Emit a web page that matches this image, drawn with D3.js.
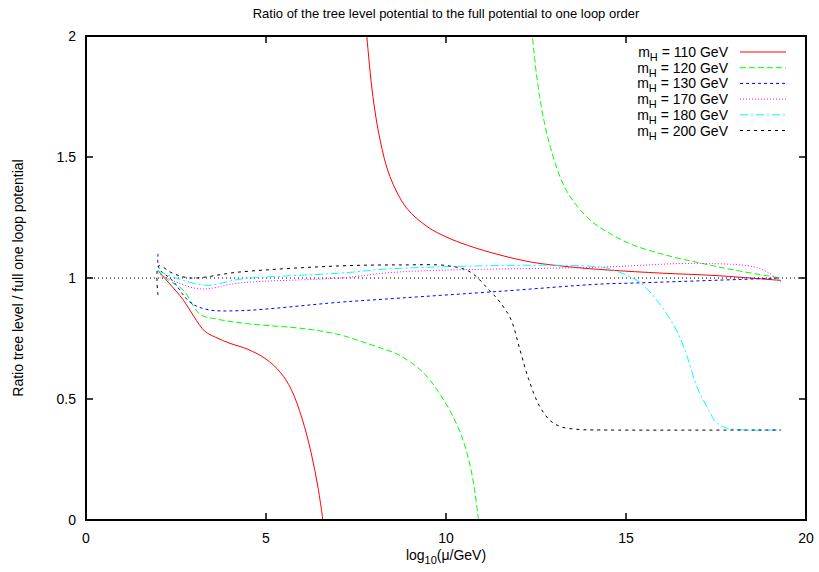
<!DOCTYPE html>
<html>
<head>
<meta charset="utf-8">
<script src="https://cdn.jsdelivr.net/npm/d3@7"></script>
<style>
  body { margin: 0; background: #fff; }
  text { font-family: "Liberation Sans", Arial, sans-serif; fill: #000; }
</style>
</head>
<body>
<div id="chart"></div>
<script>
// data, [log10(mu/GeV), ratio]
const mH110a = [[2,1.03],[2.3,0.98],[2.7,0.91],[3.0,0.84],[3.3,0.78],[3.6,0.755],[4.0,0.73],[4.5,0.705],[5.0,0.665],[5.4,0.61],[5.7,0.54],[6.0,0.42],[6.25,0.28],[6.45,0.13],[6.58,0]];
const mH110b = [[7.75,2.1],[7.8,2.0],[7.97,1.75],[8.17,1.57],[8.44,1.42],[8.9,1.29],[9.5,1.21],[10,1.17],[10.6,1.135],[11.5,1.095],[12.4,1.065],[13.5,1.045],[14.5,1.033],[16,1.02],[17.5,1.01],[19.3,0.99]];
const mH120a = [[2,1.03],[2.3,0.99],[2.7,0.95],[3.17,0.85],[3.64,0.83],[4.56,0.81],[6.1,0.79],[7.06,0.765],[7.6,0.74],[8.2,0.71],[8.72,0.68],[9.36,0.61],[9.92,0.5],[10.4,0.36],[10.72,0.19],[10.9,0]];
const mH120b = [[12.35,2.1],[12.4,2.0],[12.6,1.75],[12.9,1.54],[13.35,1.36],[14.0,1.24],[14.6,1.18],[15.2,1.136],[16.1,1.095],[17.06,1.062],[18,1.033],[19.3,1.0]];
const mH130 = [[2,1.10],[2.03,1.04],[2.4,0.99],[2.89,0.90],[3.36,0.87],[4.28,0.865],[7.06,0.90],[8.72,0.917],[11.5,0.945],[14.3,0.975],[15.4,0.98],[19.3,1.0]];
const mH170 = [[2,1.02],[2.4,0.99],[3.17,0.955],[4.3,0.98],[7.06,1.0],[8.7,1.025],[14.3,1.045],[17.06,1.06],[18.7,1.04],[19.3,0.985]];
const mH180 = [[2,1.03],[2.5,1.0],[3.36,0.97],[4.28,0.995],[7.06,1.02],[8.7,1.04],[14.3,1.045],[14.8,1.025],[15.4,0.98],[15.9,0.90],[16.4,0.785],[16.7,0.675],[16.97,0.55],[17.25,0.467],[17.5,0.405],[17.8,0.38],[18.25,0.372],[19.3,0.372]];
const mH200 = [[2,0.93],[2.02,1.05],[2.4,1.02],[2.9,1.0],[4.28,1.025],[7.06,1.05],[8.72,1.054],[10.1,1.05],[10.67,1.025],[11.2,0.95],[11.5,0.90],[11.8,0.83],[12.06,0.70],[12.3,0.58],[12.6,0.47],[12.9,0.41],[13.2,0.385],[13.7,0.374],[14.3,0.372],[19.3,0.372]];

const legendLabels = ["110", "120", "130", "170", "180", "200"];
const xTicks = [0, 5, 10, 15, 20];
const yTicks = [0, 0.5, 1, 1.5, 2];

const series = [
  { parts: [mH110a, mH110b], color: "#ff0000", dash: null },
  { parts: [mH120a, mH120b], color: "#00ff00", dash: "6,3" },
  { parts: [mH130], color: "#0000ff", dash: "3,3" },
  { parts: [mH170], color: "#ff00ff", dash: "1,2" },
  { parts: [mH180], color: "#00ffff", dash: "8,3,2,3" },
  { parts: [mH200], color: "#000000", dash: "3,4" }
];

const margin = { top: 36, right: 13, bottom: 52, left: 86 };
const width = 819 - margin.left - margin.right;
const height = 572 - margin.top - margin.bottom;

const svg = d3.select("#chart")
    .append("svg")
    .attr("width", 819)
    .attr("height", 572);

const g = svg.append("g")
    .attr("transform", `translate(${margin.left}, ${margin.top})`);

const x = d3.scaleLinear().domain([0, 20]).range([0, width]);
const y = d3.scaleLinear().domain([0, 2]).range([height, 0]);

g.append("clipPath").attr("id", "clip")
  .append("rect").attr("width", width).attr("height", height);

// reference line at 1
g.append("line")
    .attr("x1", 0).attr("x2", width)
    .attr("y1", y(1)).attr("y2", y(1))
    .attr("stroke", "#000").attr("stroke-width", 1)
    .attr("stroke-dasharray", "1,3");

const line = d3.line()
    .x(d => x(d[0]))
    .y(d => y(d[1]))
    .curve(d3.curveCatmullRom.alpha(0.5));

const curves = g.append("g").attr("clip-path", "url(#clip)");
series.forEach(s => {
  s.parts.forEach(p => {
    curves.append("path")
        .datum(p)
        .attr("fill", "none")
        .attr("stroke", s.color)
        .attr("stroke-width", 1)
        .attr("stroke-dasharray", s.dash)
        .attr("d", line);
  });
});

// frame and ticks (mirrored like gnuplot)
g.append("rect")
    .attr("width", width).attr("height", height)
    .attr("fill", "none").attr("stroke", "#000").attr("stroke-width", 2);

xTicks.forEach(t => {
  g.append("line").attr("x1", x(t)).attr("x2", x(t)).attr("y1", height).attr("y2", height - 7)
      .attr("stroke", "#000").attr("stroke-width", 1.5);
  g.append("line").attr("x1", x(t)).attr("x2", x(t)).attr("y1", 0).attr("y2", 7)
      .attr("stroke", "#000").attr("stroke-width", 1.5);
  g.append("text").attr("x", x(t)).attr("y", height + 23)
      .attr("text-anchor", "middle").style("font-size", "14px").text(t);
});

yTicks.forEach(t => {
  g.append("line").attr("x1", 0).attr("x2", 7).attr("y1", y(t)).attr("y2", y(t))
      .attr("stroke", "#000").attr("stroke-width", 1.5);
  g.append("line").attr("x1", width).attr("x2", width - 7).attr("y1", y(t)).attr("y2", y(t))
      .attr("stroke", "#000").attr("stroke-width", 1.5);
  g.append("text").attr("x", -10).attr("y", y(t) + 5)
      .attr("text-anchor", "end").style("font-size", "14px").text(t);
});

// title
svg.append("text")
    .attr("x", margin.left + width / 2).attr("y", 18)
    .attr("text-anchor", "middle").style("font-size", "13px")
    .text("Ratio of the tree level potential to the full potential to one loop order");

// x label
const xl = svg.append("text")
    .attr("x", margin.left + width / 2).attr("y", 560)
    .attr("text-anchor", "middle").style("font-size", "14px");
xl.append("tspan").text("log");
xl.append("tspan").attr("dy", 4).style("font-size", "11px").text("10");
xl.append("tspan").attr("dy", -4).text("(μ/GeV)");

// y label
svg.append("text")
    .attr("transform", `translate(23, ${margin.top + height / 2}) rotate(-90)`)
    .attr("text-anchor", "middle").style("font-size", "14px")
    .text("Ratio tree level / full one loop potential");

// legend
const leg = svg.append("g");
series.forEach((s, i) => {
  const ly = 52 + i * 15.7;
  const t = leg.append("text").attr("x", 728).attr("y", ly + 5)
      .attr("text-anchor", "end").style("font-size", "14px");
  t.append("tspan").text("m");
  t.append("tspan").attr("dy", 4).style("font-size", "11px").text("H");
  t.append("tspan").attr("dy", -4).text(` = ${legendLabels[i]} GeV`);
  leg.append("line").attr("x1", 740).attr("x2", 786).attr("y1", ly).attr("y2", ly)
      .attr("stroke", s.color).attr("stroke-width", 1).attr("stroke-dasharray", s.dash);
});
</script>
</body>
</html>
